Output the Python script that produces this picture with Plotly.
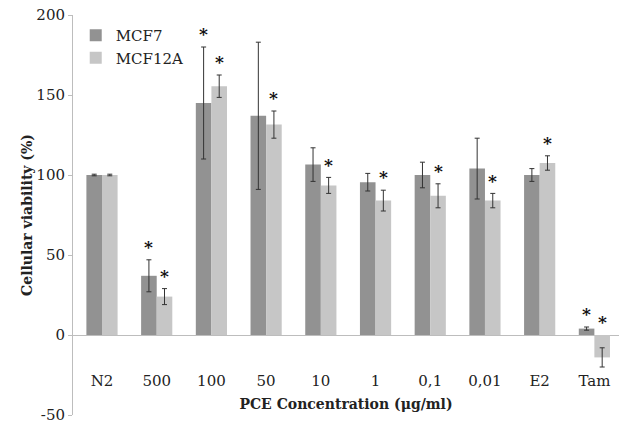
import plotly.graph_objects as go

categories = ["N2", "500", "100", "50", "10", "1", "0,1", "0,01", "E2", "Tam"]
mcf7 = [100, 37, 145, 137, 106.5, 95.5, 100, 104, 100, 4]
mcf7_err = [0.5, 10, 35, 46, 10.5, 5.5, 8, 19, 4, 1]
mcf12a = [100, 24, 155.5, 131.5, 93.5, 84, 87, 84, 107.5, -14]
mcf12a_err = [0.5, 5, 7, 8.5, 5, 6.5, 7.5, 4.5, 4.5, 6]
mcf7_sig = [False, True, True, False, False, False, False, False, False, True]
mcf12a_sig = [False, True, True, True, True, True, True, True, True, True]
y_ticks = [-50, 0, 50, 100, 150, 200]
y_tick_labels = ["-50", "0", "50", "100", "150", "200"]

FONT = "DejaVu Serif, Liberation Serif, serif"
C7 = "#929292"
C12 = "#c6c6c6"

x_idx = list(range(len(categories)))

fig = go.Figure()
fig.add_trace(go.Bar(
    x=x_idx, y=mcf7, name="MCF7", marker=dict(color=C7, line=dict(width=0)),
    error_y=dict(type="data", array=mcf7_err, color="#333333", thickness=1, width=2.5),
))
fig.add_trace(go.Bar(
    x=x_idx, y=mcf12a, name="MCF12A", marker=dict(color=C12, line=dict(width=0)),
    error_y=dict(type="data", array=mcf12a_err, color="#333333", thickness=1, width=2.5),
))

off = 0.142
for i in x_idx:
    if mcf7_sig[i]:
        top = max(mcf7[i] + mcf7_err[i], 0)
        fig.add_annotation(x=i - off, y=top + 8, text="<b>*</b>", showarrow=False,
                           font=dict(family=FONT, size=17, color="#111"), yanchor="middle")
    if mcf12a_sig[i]:
        top = max(mcf12a[i] + mcf12a_err[i], 0)
        fig.add_annotation(x=i + off, y=top + 8, text="<b>*</b>", showarrow=False,
                           font=dict(family=FONT, size=17, color="#111"), yanchor="middle")

fig.update_layout(
    width=619, height=425,
    margin=dict(l=73, r=0, t=15, b=10, autoexpand=False),
    paper_bgcolor="white", plot_bgcolor="white",
    barmode="group", bargap=0.43, bargroupgap=0,
    font=dict(family=FONT, size=15, color="#222"),
    showlegend=True,
    legend=dict(x=0.005, y=0.99, xanchor="left", yanchor="top",
                bgcolor="rgba(0,0,0,0)", font=dict(family=FONT, size=15, color="#222"),
                tracegroupgap=0),
    xaxis=dict(
        range=[-0.53, 9.45],
        tickmode="array", tickvals=x_idx, ticktext=categories,
        anchor="free", position=0.112, automargin=False,
        showline=False, showgrid=False, zeroline=False, ticks="",
        tickfont=dict(family=FONT, size=15, color="#222"),
        title=dict(text="<b>PCE Concentration (μg/ml)</b>", standoff=9,
                   font=dict(family=FONT, size=14, color="#222")),
    ),
    yaxis=dict(
        range=[-50, 200], tickmode="array", tickvals=y_ticks, ticktext=y_tick_labels,
        showline=True, linecolor="#bdbdbd", linewidth=1, automargin=False,
        ticks="outside", ticklen=4, tickcolor="#bdbdbd",
        showgrid=False, ticklabeloverflow="allow",
        zeroline=True, zerolinecolor="#bdbdbd", zerolinewidth=1,
        tickfont=dict(family=FONT, size=15, color="#222"),
        title=dict(text="<b>Cellular viability (%)</b>", standoff=0,
                   font=dict(family=FONT, size=14, color="#222")),
    ),
)

fig.write_html("out.html", config={"displayModeBar": False},
               post_script="document.body.style.margin='0';")
